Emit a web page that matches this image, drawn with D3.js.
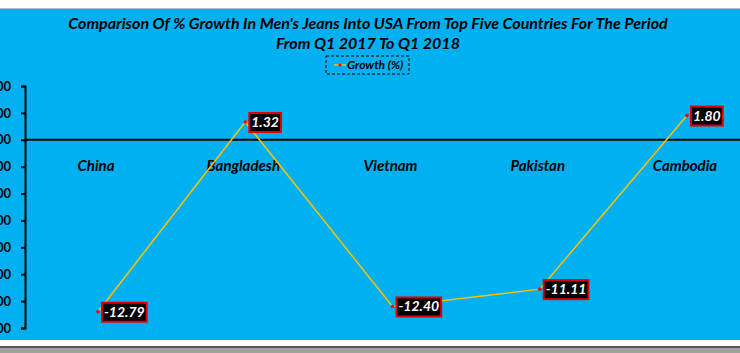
<!DOCTYPE html>
<html>
<head>
<meta charset="utf-8">
<script src="https://cdn.jsdelivr.net/npm/d3@7"></script>
<style>
  body { margin: 0; background: #fff; overflow: hidden; }
  text { font-family: Lato, "Open Sans", sans-serif; }
</style>
</head>
<body>
<div id="chart"></div>
<script>
const countries = ['China', 'Bangladesh', 'Vietnam', 'Pakistan', 'Cambodia'];
const growth = [-12.79, 1.32, -12.40, -11.11, 1.80];
const yTicks = [4, 2, 0, -2, -4, -6, -8, -10, -12, -14];
const titleLines = [
  "Comparison Of % Growth In Men's Jeans Into USA From Top Five Countries For The Period",
  'From Q1 2017 To Q1 2018'
];

const W = 740, H = 353;
const fmt = d3.formatLocale({ decimal: '.', thousands: ',', grouping: [3], currency: ['$', ''], minus: '-' }).format('.2f');

const svg = d3.select('#chart')
  .append('svg')
    .attr('width', W)
    .attr('height', H);

// frame: white strip, gray rule, blue panel, bottom shadow
svg.append('rect')
    .attr('width', W).attr('height', H)
    .attr('fill', '#fff');
svg.append('rect')
    .attr('x', 0).attr('y', 8).attr('width', W).attr('height', 1)
    .attr('fill', '#b8c0cc');
svg.append('rect')
    .attr('x', 0).attr('y', 9).attr('width', W).attr('height', 331)
    .attr('fill', '#00b0f0');
svg.append('rect')
    .attr('x', 0).attr('y', 346).attr('width', W).attr('height', 2)
    .attr('fill', '#555');
svg.append('rect')
    .attr('x', 0).attr('y', 348).attr('width', W).attr('height', 5)
    .attr('fill', '#a0a0a0');

const x = d3.scalePoint()
    .domain(countries)
    .range([98, 687])
    .padding(0);

const y = d3.scaleLinear()
    .domain([-14, 4])
    .range([328, 86]);

// title
svg.append('g')
  .selectAll('text')
  .data(titleLines)
  .join('text')
    .attr('x', 368)
    .attr('y', (d, i) => 29 + i * 20)
    .attr('text-anchor', 'middle')
    .attr('font-size', '16px')
    .attr('font-weight', 'bold')
    .attr('font-style', 'italic')
    .attr('fill', '#000')
    .text(d => d);

// legend
const lg = svg.append('g').attr('transform', 'translate(326,56)');
lg.append('rect')
    .attr('width', 83).attr('height', 18)
    .attr('fill', 'none')
    .attr('stroke', '#000')
    .attr('stroke-width', 1)
    .attr('stroke-dasharray', '3,2');
lg.append('line')
    .attr('x1', 8).attr('x2', 20).attr('y1', 9).attr('y2', 9)
    .attr('stroke', '#ffc000').attr('stroke-width', 1.5);
lg.append('circle')
    .attr('cx', 14).attr('cy', 9).attr('r', 1.6)
    .attr('fill', '#ff0000');
lg.append('text')
    .attr('x', 21).attr('y', 13)
    .attr('font-size', '12px')
    .attr('font-weight', 'bold')
    .attr('font-style', 'italic')
    .text('Growth (%)');

// y axis
const yAxis = svg.append('g')
    .attr('transform', 'translate(25,0)')
    .call(d3.axisLeft(y).tickValues(yTicks).tickSize(4).tickPadding(10).tickFormat(fmt));
yAxis.select('.domain').attr('stroke', '#000').attr('stroke-width', 2);
yAxis.selectAll('.tick line').attr('stroke', '#000').attr('stroke-width', 2);
yAxis.selectAll('.tick text')
    .attr('font-size', '13px')
    .attr('font-weight', 'bold')
    .attr('fill', '#000')
    .style('font-family', 'Lato, sans-serif');

// zero line
svg.append('line')
    .attr('x1', 25).attr('x2', W)
    .attr('y1', y(0)).attr('y2', y(0))
    .attr('stroke', '#000')
    .attr('stroke-width', 2);

// category labels
svg.append('g')
  .selectAll('text')
  .data(countries)
  .join('text')
    .attr('x', d => x(d) - 2)
    .attr('y', 171)
    .attr('text-anchor', 'middle')
    .attr('font-size', '15px')
    .attr('font-weight', 'bold')
    .attr('font-style', 'italic')
    .text(d => d);

// series line
const pts = countries.map((c, i) => [x(c), y(growth[i])]);
svg.append('path')
    .datum(pts)
    .attr('fill', 'none')
    .attr('stroke', '#ffc000')
    .attr('stroke-width', 1.5)
    .attr('d', d3.line());

svg.append('g')
  .selectAll('circle')
  .data(pts)
  .join('circle')
    .attr('cx', d => d[0])
    .attr('cy', d => d[1])
    .attr('r', 1.8)
    .attr('fill', '#ff0000');

// data labels
const lbl = svg.append('g')
  .selectAll('g')
  .data(countries)
  .join('g')
    .attr('transform', (d, i) => `translate(${x(d) + 4},${y(growth[i])})`);

lbl.append('text')
    .attr('x', 2)
    .attr('y', 5)
    .attr('font-size', '14px')
    .attr('font-weight', 'bold')
    .attr('font-style', 'italic')
    .attr('fill', '#fff')
    .text((d, i) => fmt(growth[i]));

lbl.each(function() {
  const g = d3.select(this);
  const bb = g.select('text').node().getBBox();
  g.insert('rect', 'text')
      .attr('x', 0)
      .attr('y', -9)
      .attr('width', bb.width + 4)
      .attr('height', 19)
      .attr('fill', '#000')
      .attr('stroke', '#e00000')
      .attr('stroke-width', 2);
});
</script>
</body>
</html>
